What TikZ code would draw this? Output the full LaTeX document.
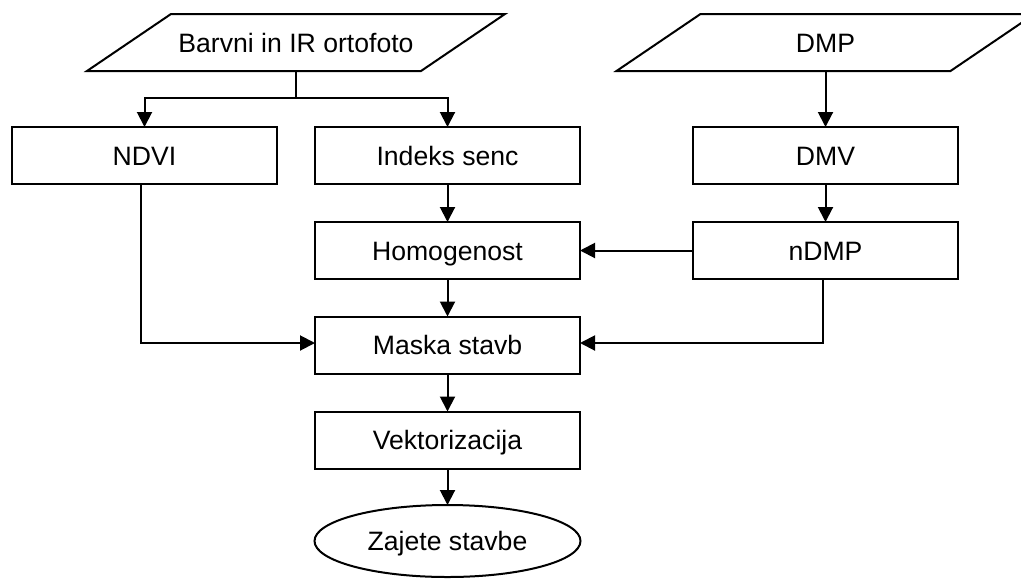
\documentclass[tikz,border=0pt]{standalone}
\usepackage{fontspec}
\setmainfont{Liberation Sans}
\usetikzlibrary{shapes.geometric,arrows.meta}
\tikzset{
  box/.style={draw, line width=1pt, minimum width=132.5pt, minimum height=28.5pt, inner sep=0pt, outer sep=0pt,
    text height=9.6pt, text depth=0pt},
  datain/.style={minimum width=167pt, minimum height=28.5pt, inner sep=0pt, outer sep=0pt,
    text height=9.6pt, text depth=0pt},
  goal/.style={draw, line width=1pt, ellipse, minimum width=133pt, minimum height=36pt, inner sep=0pt, outer sep=0pt,
    text height=9.6pt, text depth=0pt},
  arr/.style={-{Triangle[length=7.5pt,width=7.5pt]}, line width=1pt}
}
\begin{document}
\begin{tikzpicture}[x=0.5pt,y=-0.5pt,font=\fontsize{13.3}{16}\selectfont]
\useasboundingbox (0,0) rectangle (1021,578);

% vhodni podatki
\node[datain] (orto) at (296,42.5) {Barvni in IR ortofoto};
\node[datain] (dmp) at (825.5,42.5) {DMP};
\draw[line width=1pt] ([xshift=-21pt]orto.south west) -- ([xshift=21pt]orto.north west)
  -- ([xshift=21pt]orto.north east) -- ([xshift=-21pt]orto.south east) -- cycle;
\draw[line width=1pt] ([xshift=-21pt]dmp.south west) -- ([xshift=21pt]dmp.north west)
  -- ([xshift=21pt]dmp.north east) -- ([xshift=-21pt]dmp.south east) -- cycle;

\node[box] (ndvi) at (144.5,155.5) {NDVI};
\node[box] (indeks) at (447.5,155.5) {Indeks senc};
\node[box] (dmv) at (825.5,155.5) {DMV};
\node[box] (homog) at (447.5,250.5) {Homogenost};
\node[box] (ndmp) at (825.5,250.5) {nDMP};
\node[box] (maska) at (447.5,345) {Maska stavb};
\node[box] (vekt) at (447.5,440) {Vektorizacija};
\node[goal] (zajete) at (447.5,541) {Zajete stavbe};

\coordinate (split) at (296,98);

\draw[line width=1pt] (orto.south) -- (split);
\draw[arr] (split) -| (ndvi.north);
\draw[arr] (split) -| (indeks.north);
\draw[arr] (dmp) -- (dmv);

\draw[arr] (indeks) -- (homog);
\draw[arr] (dmv) -- (ndmp);
\draw[arr] (ndmp) -- (homog);
\draw[arr] (homog) -- (maska);
\draw[arr] ([xshift=-2pt]ndvi.south) |- ([yshift=1pt]maska.west);
\draw[arr] ([xshift=-1.5pt]ndmp.south) |- ([yshift=1pt]maska.east);
\draw[arr] (maska) -- (vekt);
\draw[arr] (vekt) -- (zajete);
\end{tikzpicture}
\end{document}
